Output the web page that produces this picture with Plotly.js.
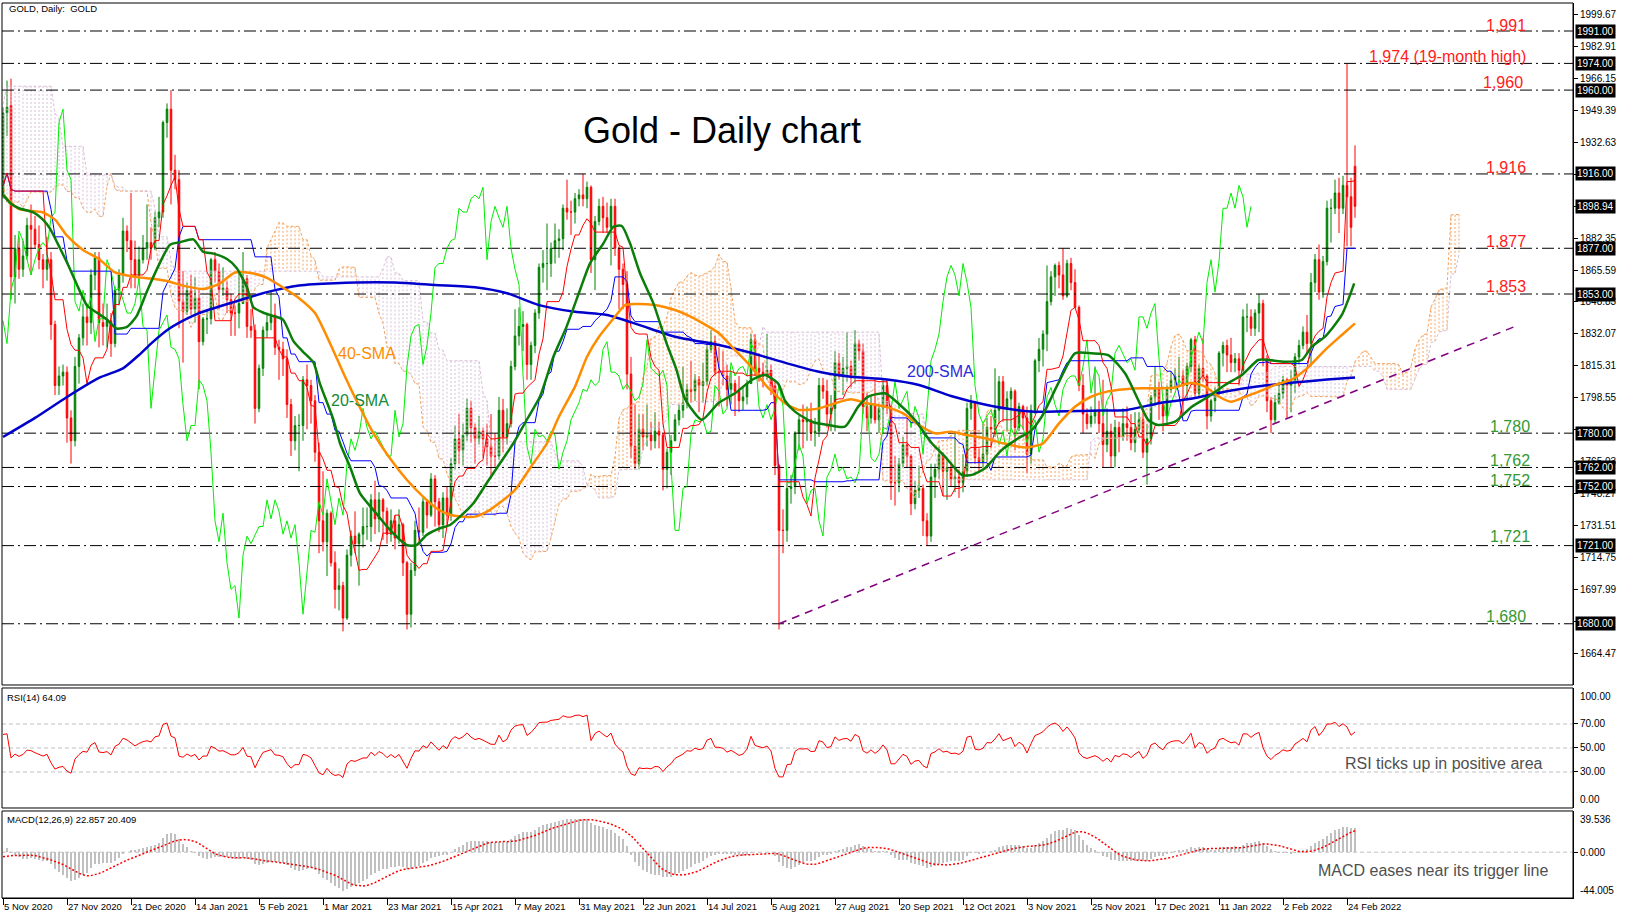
<!DOCTYPE html>
<html><head><meta charset="utf-8">
<script src="https://cdn.plot.ly/plotly-3.0.1.min.js"></script>
<style>html,body{margin:0;padding:0;background:#fff;}#chart{width:1625px;height:919px;}</style>
</head><body><div id="chart"></div>
<script>
// ---------- DATA ----------
const dateLabels = ['5 Nov 2020','27 Nov 2020','21 Dec 2020','14 Jan 2021','5 Feb 2021','1 Mar 2021','23 Mar 2021','15 Apr 2021','7 May 2021','31 May 2021','22 Jun 2021','14 Jul 2021','5 Aug 2021','27 Aug 2021','20 Sep 2021','12 Oct 2021','3 Nov 2021','25 Nov 2021','17 Dec 2021','11 Jan 2022','2 Feb 2022','24 Feb 2022'];
const labelStep = 16;

// daily candles, bar 0 = 5 Nov 2020 ... bar 338 = 28 Feb 2022
const open = [
1905,1948,1952,1862,1877,1866,1873,1889,1887,1879, 1871,1866,1871,1837,1805,1810,1812,1788,1776,1815,
1830,1841,1838,1863,1872,1838,1836,1839,1827,1855, 1863,1886,1881,1871,1863,1871,1877,1880,1877,1893,
1896,1943,1950,1918,1913,1849,1844,1855,1845,1851, 1828,1840,1840,1871,1865,1855,1856,1850,1843,1843,
1848,1861,1836,1834,1793,1814,1834,1838,1842,1825, 1824,1819,1795,1776,1784,1784,1808,1805,1797,1770,
1734,1723,1738,1712,1698,1700,1683,1716,1726,1722, 1727,1731,1731,1745,1735,1745,1739,1727,1734,1725,
1732,1712,1685,1708,1729,1728,1744,1737,1756,1744, 1732,1746,1737,1764,1777,1771,1779,1793,1783,1777,
1781,1777,1773,1768,1768,1792,1778,1785,1815,1831, 1836,1837,1816,1826,1843,1867,1869,1869,1877,1881,
1882,1898,1896,1896,1903,1905,1903,1909,1871,1891, 1899,1893,1888,1899,1877,1866,1858,1811,1773,1764,
1782,1778,1779,1776,1781,1779,1761,1770,1776,1787, 1792,1796,1803,1802,1808,1805,1807,1824,1828,1812,
1812,1810,1803,1806,1802,1797,1799,1806,1829,1814, 1812,1810,1813,1805,1763,1729,1729,1751,1752,1780,
1787,1786,1787,1780,1781,1805,1802,1790,1793,1817, 1810,1814,1815,1810,1827,1823,1794,1788,1795,1787,
1793,1805,1794,1754,1754,1764,1774,1768,1743,1750, 1751,1734,1726,1757,1761,1769,1760,1762,1756,1757,
1754,1760,1793,1796,1767,1765,1769,1783,1782,1792, 1807,1793,1798,1802,1783,1794,1788,1769,1792,1818,
1824,1832,1849,1862,1868,1863,1852,1869,1859,1846, 1805,1790,1785,1789,1792,1785,1774,1781,1768,1783,
1778,1785,1783,1775,1782,1787,1770,1777,1799,1804, 1795,1789,1803,1808,1810,1810,1805,1815,1829,1801,
1814,1810,1789,1797,1801,1822,1826,1821,1817,1819, 1813,1841,1841,1835,1843,1848,1819,1797,1787,1796,
1801,1808,1805,1807,1820,1826,1833,1827,1859,1871, 1854,1870,1898,1898,1906,1898,1910,1904,1920];
const high = [
1951,1965,1966,1884,1883,1881,1893,1900,1894,1889, 1874,1883,1875,1839,1815,1816,1815,1792,1820,1832,
1848,1848,1866,1875,1875,1848,1848,1843,1857,1866, 1893,1889,1906,1881,1878,1884,1900,1888,1896,1904,
1944,1953,1960,1926,1918,1865,1859,1863,1862,1856, 1841,1845,1872,1875,1869,1867,1860,1853,1847,1865,
1875,1863,1845,1837,1816,1836,1843,1855,1848,1829, 1828,1824,1798,1789,1790,1810,1816,1808,1800,1775,
1760,1740,1739,1718,1709,1702,1719,1729,1739,1728, 1741,1741,1748,1755,1749,1746,1741,1740,1737,1740,
1733,1713,1712,1734,1741,1746,1745,1759,1758,1746, 1749,1752,1767,1784,1790,1785,1798,1797,1785,1789,
1783,1785,1790,1780,1799,1798,1793,1818,1845,1846, 1844,1838,1828,1845,1869,1876,1890,1880,1890,1887,
1900,1913,1902,1906,1908,1916,1912,1910,1894,1903, 1904,1901,1903,1903,1878,1869,1865,1820,1795,1790,
1790,1795,1786,1791,1786,1780,1772,1779,1790,1795, 1815,1806,1818,1811,1810,1817,1827,1834,1831,1825,
1823,1816,1812,1808,1810,1804,1808,1832,1832,1822, 1817,1832,1816,1808,1764,1740,1754,1758,1781,1790,
1795,1794,1796,1788,1809,1809,1808,1800,1823,1822, 1820,1833,1818,1834,1829,1827,1801,1800,1808,1795,
1808,1808,1795,1768,1767,1778,1788,1769,1755,1763, 1753,1738,1764,1764,1773,1770,1767,1765,1781,1761,
1769,1796,1800,1797,1772,1785,1788,1789,1814,1810, 1810,1802,1804,1803,1796,1795,1794,1795,1819,1830,
1834,1868,1865,1869,1870,1877,1871,1872,1866,1847, 1811,1793,1794,1815,1797,1808,1793,1785,1787,1786,
1793,1794,1790,1791,1791,1793,1785,1800,1815,1807, 1796,1805,1812,1814,1820,1813,1817,1830,1831,1816,
1830,1811,1798,1804,1823,1828,1829,1830,1822,1822, 1845,1848,1845,1845,1853,1850,1821,1799,1800,1807,
1810,1809,1813,1822,1829,1836,1842,1864,1874,1879, 1873,1902,1903,1913,1914,1915,1974,1914,1931];
const low = [
1903,1936,1850,1848,1861,1862,1871,1863,1877,1866, 1856,1860,1829,1800,1800,1805,1775,1764,1773,1806,
1826,1826,1832,1855,1825,1826,1825,1820,1825,1847, 1859,1875,1856,1856,1860,1869,1871,1871,1876,1888,
1893,1935,1900,1908,1835,1817,1842,1842,1838,1803, 1826,1832,1837,1859,1845,1852,1843,1831,1831,1835,
1848,1830,1830,1785,1791,1810,1830,1834,1821,1808, 1810,1788,1768,1771,1760,1776,1782,1785,1765,1717,
1718,1705,1710,1688,1687,1676,1682,1710,1717,1700, 1720,1724,1723,1727,1728,1724,1722,1723,1719,1722,
1705,1677,1678,1705,1721,1726,1730,1736,1731,1728, 1725,1731,1734,1761,1764,1763,1776,1775,1764,1774,
1767,1763,1756,1762,1766,1770,1774,1783,1813,1826, 1823,1808,1808,1822,1840,1859,1855,1862,1869,1872,
1876,1892,1884,1890,1899,1899,1898,1864,1855,1889, 1885,1885,1868,1873,1845,1845,1803,1767,1761,1761,
1771,1773,1771,1772,1772,1750,1751,1758,1776,1784, 1788,1793,1796,1797,1791,1796,1805,1822,1810,1794,
1805,1794,1795,1789,1791,1792,1795,1806,1810,1807, 1804,1808,1800,1758,1677,1717,1723,1743,1748,1771,
1772,1776,1776,1773,1778,1798,1783,1781,1781,1808, 1800,1807,1804,1806,1818,1790,1781,1785,1785,1780,
1780,1790,1745,1742,1749,1762,1762,1737,1740,1746, 1726,1721,1723,1746,1756,1747,1745,1752,1749,1746,
1749,1757,1787,1764,1760,1762,1765,1772,1778,1785, 1786,1781,1783,1771,1781,1782,1759,1764,1790,1812,
1815,1823,1847,1852,1856,1850,1851,1855,1846,1802, 1780,1782,1783,1785,1780,1762,1770,1762,1762,1770,
1776,1776,1771,1770,1780,1767,1753,1774,1794,1787, 1781,1784,1801,1804,1805,1790,1797,1812,1799,1799,
1807,1782,1786,1791,1800,1815,1812,1812,1812,1805, 1812,1833,1831,1831,1833,1815,1791,1780,1785,1795,
1798,1788,1791,1801,1816,1824,1822,1815,1854,1850, 1851,1868,1880,1895,1885,1895,1878,1878,1893];
const close = [
1948,1951,1862,1877,1866,1873,1889,1887,1879,1871, 1866,1871,1837,1805,1810,1812,1788,1776,1815,1830,
1841,1838,1863,1872,1838,1836,1839,1827,1855,1863, 1886,1881,1871,1863,1871,1877,1880,1877,1893,1896,
1943,1950,1918,1913,1849,1844,1855,1845,1851,1828, 1840,1840,1871,1865,1855,1856,1850,1843,1843,1848,
1861,1836,1834,1793,1814,1834,1838,1842,1825,1824, 1819,1795,1776,1784,1784,1808,1805,1797,1770,1734,
1723,1738,1712,1698,1700,1683,1716,1726,1722,1727, 1731,1731,1745,1735,1745,1739,1727,1734,1725,1732,
1712,1685,1708,1729,1728,1744,1737,1756,1744,1732, 1746,1737,1764,1777,1771,1779,1793,1783,1777,1781,
1777,1773,1768,1768,1792,1778,1785,1815,1831,1836, 1837,1816,1826,1843,1867,1869,1869,1877,1881,1882,
1898,1896,1896,1903,1905,1903,1909,1871,1891,1899, 1893,1888,1899,1877,1866,1858,1811,1773,1764,1782,
1778,1779,1776,1781,1779,1761,1770,1776,1787,1792, 1796,1803,1802,1808,1805,1807,1824,1828,1812,1812,
1810,1803,1806,1802,1797,1799,1806,1829,1814,1812, 1810,1813,1805,1763,1729,1729,1751,1752,1780,1787,
1786,1787,1780,1781,1805,1802,1790,1793,1817,1810, 1814,1815,1810,1827,1823,1794,1788,1795,1787,1793,
1805,1794,1754,1754,1764,1774,1768,1743,1750,1751, 1734,1726,1757,1761,1769,1760,1762,1756,1757,1754,
1760,1793,1796,1767,1765,1769,1783,1782,1792,1807, 1793,1798,1802,1783,1794,1788,1769,1792,1818,1824,
1832,1849,1862,1868,1863,1852,1869,1859,1846,1805, 1790,1785,1789,1792,1785,1774,1781,1768,1783,1778,
1785,1783,1775,1782,1787,1770,1777,1799,1804,1795, 1789,1803,1808,1810,1810,1805,1815,1829,1801,1814,
1810,1789,1797,1801,1822,1826,1821,1817,1819,1813, 1841,1841,1835,1843,1848,1819,1797,1787,1796,1801,
1808,1805,1807,1820,1826,1833,1827,1859,1871,1854, 1870,1898,1898,1906,1898,1910,1904,1888,1899];

// closes before the visible window (20 Jul 2020 - 4 Nov 2020), used only as indicator history
const historyClose = [
1818,1842,1871,1888,1902,1941,1958,1970,1958,1975, 1976,2019,2038,2063,2035,2029,1912,1915,1954,1944,
1985,2000,1930,1947,1940,1928,1908,1953,1930,1964, 1968,1970,1943,1930,1933,1932,1931,1946,1946,1941,
1956,1954,1958,1943,1950,1912,1900,1863,1868,1861, 1881,1898,1886,1906,1899,1913,1877,1887,1894,1930,
1922,1892,1902,1908,1899,1904,1907,1924,1904,1902, 1902,1908,1878,1868,1878,1895,1909,1904];

// moving averages (bar index, value)
const sma20Bar = [0,2,4,7.6,10,11.75,14.25,16,18.4,21,23.4,26,28.4,31,33.4,36,39.25,41.75,44.25,47.6,50,52.6,56,58.4,61,62.6,65,67.6,70,72.6,75,77.6,79.25,82.6,84.25,86.75,89.25,92.6,96.75,100.9,103.4,105.9,109.25,111.75,114.25,117.6,120.9,124.25,127.6,130.9,134.25,137.6,140.9,144.25,146.75,150.1,152.6,154.7,156.75,159.25,162.6,165.9,168.4,170.5,174.7,178.8,183,187.2,190.5,193.8,195.5,198,202.2,206.3,210.5,213.8,216.3,220.5,223.8,228,232.2,235.5,239.7,242.2,245.5,249.7,253.8,256.75,259.7,263.8,268,272.2,276.3,280.5,283.8,286.3,288.8,293,297.2,301.3,305.5,309.7,313.8,316.3,320.5,324.7,327.2,330.5,334.7,337.8];
const sma20Val = [1905,1900.4,1898,1895.8,1892,1887.3,1877,1869.5,1858.3,1847,1843.3,1839.6,1834.9,1835.8,1841.4,1854.5,1869.5,1878.9,1880.2,1881.7,1875.2,1874.2,1871.4,1866.7,1856.4,1846.1,1843.3,1841.4,1839.6,1828.3,1822.7,1817.1,1805.9,1787.1,1774.7,1762.4,1748.4,1739.7,1729.2,1721.3,1721.3,1726.6,1730.1,1731.8,1736.2,1743.2,1753.7,1764.2,1774.7,1786.9,1799.2,1820.1,1835.9,1855.1,1869.1,1879.6,1888.3,1888.7,1879.6,1863.9,1848.1,1827.1,1813.1,1798,1787,1795.7,1800.9,1807.9,1810.5,1806,1797,1791.3,1786,1784.3,1783.4,1793.9,1799.2,1800.9,1795.7,1786.9,1774.7,1767.7,1758.1,1758.1,1761.6,1771.2,1777.3,1780.8,1788.7,1806.1,1821.9,1821.9,1821,1811.4,1797.4,1786.9,1784.3,1786,1793.9,1799.1,1805.3,1810.5,1818.4,1818.4,1817.5,1818.4,1825.4,1830.6,1842,1858.6];
const sma40Bar = [0,4,10,13,16,20,24,28,33,37,41,45,50,54,58,62,66,70,74,78,82,85,88.4,92.6,97,101,105,109,112,115,118,121,124,128,132,136,139,143,146,149,153,155.5,158,163,168,171,175,179,183,187,191,195.5,199,204,208,212,216,220.5,225,229,233,237,241,245.5,250,254,256,260,264,268,272,276,280.5,285,289,293,297,300.5,304,307,310.5,314,318,322,326,330.5,334.7,338];
const sma40Val = [1905,1897.6,1895.8,1892,1883.6,1876.1,1871.4,1864.3,1862,1861.1,1859.8,1857.4,1855.6,1858.3,1864.3,1864,1861.5,1856.4,1850.8,1843,1826,1812,1797,1780,1766,1755.4,1746.7,1739.7,1737.1,1736.2,1736.2,1738.8,1743.2,1750.2,1762.4,1774.7,1788.7,1804.4,1820.1,1830.6,1841.1,1847.2,1847.8,1847.2,1844.6,1842,1837.6,1832.4,1823.6,1814.9,1804.4,1795.7,1792.2,1793,1795.7,1797.8,1795.7,1793.9,1790.4,1784.3,1779.9,1780.8,1779,1777.3,1774.7,1772.9,1772.5,1774.6,1785.1,1793.9,1799.1,1801.8,1803,1803.5,1803.5,1804,1806.5,1804.4,1799.1,1796.5,1799.1,1801.8,1805.3,1807.9,1814,1823.6,1831.5,1837.6];
const sma200Bar = [0,8,16,24,30,34,37,41,45,49,58,66,74,83,98,108,118,126,134,143,151,159,168,179,187,196,204,212,221,229,237,246,257,272,281,289,297,306,314,322,331,338];
const sma200Val = [1778,1788,1799,1809,1814,1821,1827,1834,1839,1843,1849,1854,1857.5,1858.7,1859,1857.7,1856.5,1853.4,1847.2,1843.7,1842,1836.8,1830.6,1826.3,1822.2,1816.6,1812.2,1809.6,1808.2,1805.3,1799.5,1794.8,1791.3,1791.8,1792.2,1795.7,1798,1802,1804.6,1806.4,1808.1,1809.2];

const levelValues = [1991,1974,1960,1916,1877,1853,1780,1762,1752,1721,1680];
const levelLabels = ['1,991','1,974 (19-month high)','1,960','1,916','1,877','1,853','1,780','1,762','1,752','1,721','1,680'];
const priceBoxValues = [1991,1974,1960,1916,1898.94,1877,1853,1780,1762,1752,1721,1680];
const priceAxisTicks = [1999.67,1982.91,1966.15,1949.39,1932.63,1915.87,1899.11,1882.35,1865.59,1848.83,1832.07,1815.31,1798.55,1781.79,1765.03,1748.27,1731.51,1714.75,1697.99,1681.23,1664.47];
const trendBars = [194, 378];
const trendValues = [1680, 1836];
const rsiLevels = [70, 50, 30];

// ---------- INDICATORS (computed from the candles) ----------
const N = close.length, P = historyClose.length;
const allH = historyClose.concat(high), allL = historyClose.concat(low), allC = historyClose.concat(close);
function midHL(k, n){ let s=Math.max(0,k-n+1), hi=-Infinity, lo=Infinity; for(let j=s;j<=k;j++){ if(allH[j]>hi)hi=allH[j]; if(allL[j]<lo)lo=allL[j]; } return (hi+lo)/2; }
const bars = close.map((_,i)=>i);
const tenkan = bars.map(i=>midHL(i+P,9));
const kijun = bars.map(i=>midHL(i+P,26));
const chikouX = bars.slice(26).map(i=>i-26), chikouY = close.slice(26);
const cloudX=[], spanA=[], spanB=[];
for(let j=0;j<N+26;j++){ const k=j-26+P; cloudX.push(j); spanA.push((midHL(k,9)+midHL(k,26))/2); spanB.push(midHL(k,52)); }
const upX=[],upY=[],dnX=[],dnY=[];
cloudX.forEach((j,t)=>{ const a=spanA[t], b=spanB[t]; if(a>=b){upX.push(j,j,null);upY.push(a,b,null);} else {dnX.push(j,j,null);dnY.push(a,b,null);} });

function rsiCalc(c,n){ const out=new Array(c.length).fill(null); let g=0,l=0; for(let i=1;i<=n;i++){const d=c[i]-c[i-1]; g+=Math.max(d,0); l+=Math.max(-d,0);} g/=n; l/=n; out[n]=100-100/(1+g/(l||1e-9));
  for(let i=n+1;i<c.length;i++){const d=c[i]-c[i-1]; g=(g*(n-1)+Math.max(d,0))/n; l=(l*(n-1)+Math.max(-d,0))/n; out[i]=100-100/(1+g/(l||1e-9));} return out; }
function ema(c,n){ const k=2/(n+1), out=[c[0]]; for(let i=1;i<c.length;i++) out.push(c[i]*k+out[i-1]*(1-k)); return out; }
const rsiAll = rsiCalc(allC,14);
const e12=ema(allC,12), e26=ema(allC,26);
const macdAll = allC.map((_,i)=>e12[i]-e26[i]);
const sigAll = macdAll.map((_,i)=>{ if(i<8) return null; let s=0; for(let j=i-8;j<=i;j++) s+=macdAll[j]; return s/9; });
const rsiV = rsiAll.slice(P), macdV = macdAll.slice(P), sigV = sigAll.slice(P);

// ---------- TRACES ----------
const FONT = 'Liberation Sans, Arial, sans-serif';
const xr = [-0.25, 392.5];
const lvX=[], lvY=[]; levelValues.forEach(v=>{lvX.push(xr[0],xr[1],null); lvY.push(v,v,null);});
const rsX=[], rsY=[]; rsiLevels.forEach(v=>{rsX.push(xr[0],xr[1],null); rsY.push(v,v,null);});

const traces = [
 {type:'candlestick', x:bars, open:open, high:high, low:low, close:close, xaxis:'x', yaxis:'y',
  increasing:{line:{color:'#008000',width:1}, fillcolor:'#008000'},
  decreasing:{line:{color:'#ff0000',width:1}, fillcolor:'#ff0000'}, whiskerwidth:0, hoverinfo:'skip'},
 {type:'scatter', mode:'lines', x:upX, y:upY, line:{color:'#f4a460', width:1, dash:'2px,2px'}, hoverinfo:'skip'},
 {type:'scatter', mode:'lines', x:dnX, y:dnY, line:{color:'#d8bfd8', width:1, dash:'2px,2px'}, hoverinfo:'skip'},
 {type:'scatter', mode:'lines', x:cloudX, y:spanA, line:{color:'#f4a460', width:1, dash:'3px,2px'}, hoverinfo:'skip'},
 {type:'scatter', mode:'lines', x:cloudX, y:spanB, line:{color:'#d8bfd8', width:1, dash:'3px,2px'}, hoverinfo:'skip'},
 {type:'scatter', mode:'lines', x:lvX, y:lvY, line:{color:'#000', width:1, dash:'12px,4px,2px,4px'}, hoverinfo:'skip'},
 {type:'scatter', mode:'lines', x:trendBars, y:trendValues, line:{color:'#800080', width:1.5, dash:'8px,6px'}, hoverinfo:'skip'},
 {type:'scatter', mode:'lines', x:chikouX, y:chikouY, line:{color:'#00ee00', width:1}, hoverinfo:'skip'},
 {type:'scatter', mode:'lines', x:bars, y:kijun, line:{color:'#0000ff', width:1}, hoverinfo:'skip'},
 {type:'scatter', mode:'lines', x:bars, y:tenkan, line:{color:'#ff0000', width:1}, hoverinfo:'skip'},
 {type:'scatter', mode:'lines', x:sma200Bar, y:sma200Val, line:{color:'#0000cd', width:2.5, shape:'spline', smoothing:0.6}, hoverinfo:'skip'},
 {type:'scatter', mode:'lines', x:sma40Bar, y:sma40Val, line:{color:'#ff8c00', width:2.5, shape:'spline', smoothing:0.6}, hoverinfo:'skip'},
 {type:'scatter', mode:'lines', x:sma20Bar, y:sma20Val, line:{color:'#0a7d0a', width:2.5, shape:'spline', smoothing:0.6}, hoverinfo:'skip'},
 // RSI
 {type:'scatter', mode:'lines', x:rsX, y:rsY, yaxis:'y2', line:{color:'#c0c0c0', width:1, dash:'4px,3px'}, hoverinfo:'skip'},
 {type:'scatter', mode:'lines', x:bars, y:rsiV, yaxis:'y2', line:{color:'#ff0000', width:1}, hoverinfo:'skip'},
 // MACD
 {type:'scatter', mode:'lines', x:xr, y:[0,0], yaxis:'y3', line:{color:'#c0c0c0', width:1, dash:'4px,3px'}, hoverinfo:'skip'},
 {type:'bar', x:bars, y:macdV, yaxis:'y3', width:0.45, marker:{color:'#c0c0c0', line:{width:0}}, hoverinfo:'skip'},
 {type:'scatter', mode:'lines', x:bars, y:sigV, yaxis:'y3', line:{color:'#ff0000', width:1.5, dash:'2px,2px'}, hoverinfo:'skip'}
];

// ---------- LAYOUT ----------
const mainDom=[0.238,1], rsiDom=[0.10056,0.23464], macdDom=[0,0.09721];
const axBase = {showgrid:false, zeroline:false, showline:true, linecolor:'#000', linewidth:1, ticks:'outside', ticklen:4, tickcolor:'#000', side:'right', anchor:'x', tickfont:{family:FONT,size:10,color:'#000'}, fixedrange:true};
const ann = [];
function txt(t,x,y,opt){ ann.push(Object.assign({text:t, x:x, y:y, xref:'paper', yref:'paper', xanchor:'center', yanchor:'middle', showarrow:false, font:{family:FONT,size:10,color:'#000'}}, opt||{})); }
txt('GOLD, Daily:  GOLD', 0.003, 0.9933, {xanchor:'left', font:{family:FONT,size:9.5,color:'#000'}});
txt('RSI(14) 64.09', 0.002, 0.2242, {xanchor:'left', font:{family:FONT,size:9.5,color:'#000'}});
txt('MACD(12,26,9) 22.857 20.409', 0.002, 0.0872, {xanchor:'left', font:{family:FONT,size:9.5,color:'#000'}});
txt('Gold - Daily chart', 0.4583, 0.8581, {font:{family:FONT,size:36,color:'#000'}});
txt('40-SMA', 0.2323, 0.6089, {font:{family:FONT,size:16,color:'#ff8c00'}});
txt('20-SMA', 0.2279, 0.5564, {font:{family:FONT,size:16,color:'#138a36'}});
txt('200-SMA', 0.5971, 0.5888, {font:{family:FONT,size:16,color:'#2a2ae0'}});
txt('RSI ticks up in positive area', 0.9179, 0.1508, {font:{family:FONT,size:16,color:'#505050'}});
txt('MACD eases near its trigger line', 0.9109, 0.0302, {font:{family:FONT,size:16,color:'#505050'}});
// edge labels of sub-panels
txt('100.00', 1, rsiDom[1], {xanchor:'left', yanchor:'top', xshift:5, yshift:-1});
txt('0.00', 1, rsiDom[0], {xanchor:'left', yanchor:'bottom', xshift:5, yshift:1});
txt('39.536', 1, macdDom[1], {xanchor:'left', yanchor:'top', xshift:5, yshift:-1});
txt('-44.005', 1, macdDom[0], {xanchor:'left', yanchor:'bottom', xshift:5, yshift:0});
// level labels
const lblX = [0.9573,0.9198,0.9554,0.9573,0.9573,0.9573,0.9599,0.9599,0.9599,0.9599,0.9573];
const lblShift = [6,6.5,8,6,7,8,7,6.5,6,9,7];
levelLabels.forEach((t,i)=>{ ann.push({text:t, xref:'paper', x:lblX[i], yref:'y', y:levelValues[i], yshift:lblShift[i], yanchor:'middle', xanchor:'center', showarrow:false,
  font:{family:FONT, size:16, color: i<6 ? '#ff2020' : '#339933'}}); });
// price boxes on the axis
priceBoxValues.forEach(v=>{ ann.push({text:v.toFixed(2), xref:'paper', x:1, xanchor:'left', xshift:2, yref:'y', y:v, yanchor:'middle', showarrow:false,
  bgcolor:'#000', borderpad:1, font:{family:FONT,size:10,color:'#fff'}}); });
// axis labels that sit fully under a price box stay hidden (as on the original)
const tickText = priceAxisTicks.map(v => priceBoxValues.some(b=>Math.abs(b-v)<2.5) ? '' : v.toFixed(2));

const shapes = [mainDom, rsiDom, macdDom].map(d=>({type:'rect', xref:'paper', yref:'paper', x0:0, x1:1, y0:d[0], y1:d[1], line:{color:'#000', width:1}, fillcolor:'rgba(0,0,0,0)'}));

const layout = {
  width:1625, height:919, margin:{l:2, r:52, t:3, b:21}, paper_bgcolor:'#fff', plot_bgcolor:'#fff', showlegend:false, hovermode:false,
  boxgap:0.45, bargap:0,
  font:{family:FONT, size:10, color:'#000'},
  xaxis:{range:xr, anchor:'y3', showgrid:false, zeroline:false, showline:true, linecolor:'#000', ticks:'outside', ticklen:6, tickcolor:'#000',
    tickvals:dateLabels.map((_,i)=>i*labelStep), ticktext:dateLabels, ticklabelposition:'outside right', tickfont:{family:FONT,size:9.5,color:'#000'},
    rangeslider:{visible:false}, fixedrange:true},
  yaxis:Object.assign({}, axBase, {domain:mainDom, range:[1647.87, 2005.69], tickvals:priceAxisTicks, ticktext:tickText}),
  yaxis2:Object.assign({}, axBase, {domain:rsiDom, range:[0,100], tickvals:rsiLevels, ticktext:rsiLevels.map(v=>v.toFixed(2))}),
  yaxis3:Object.assign({}, axBase, {domain:macdDom, range:[-44.005,39.536], tickvals:[0], ticktext:['0.000']}),
  shapes:shapes, annotations:ann
};
Plotly.newPlot('chart', traces, layout, {staticPlot:true, displayModeBar:false});
</script>
</body></html>
